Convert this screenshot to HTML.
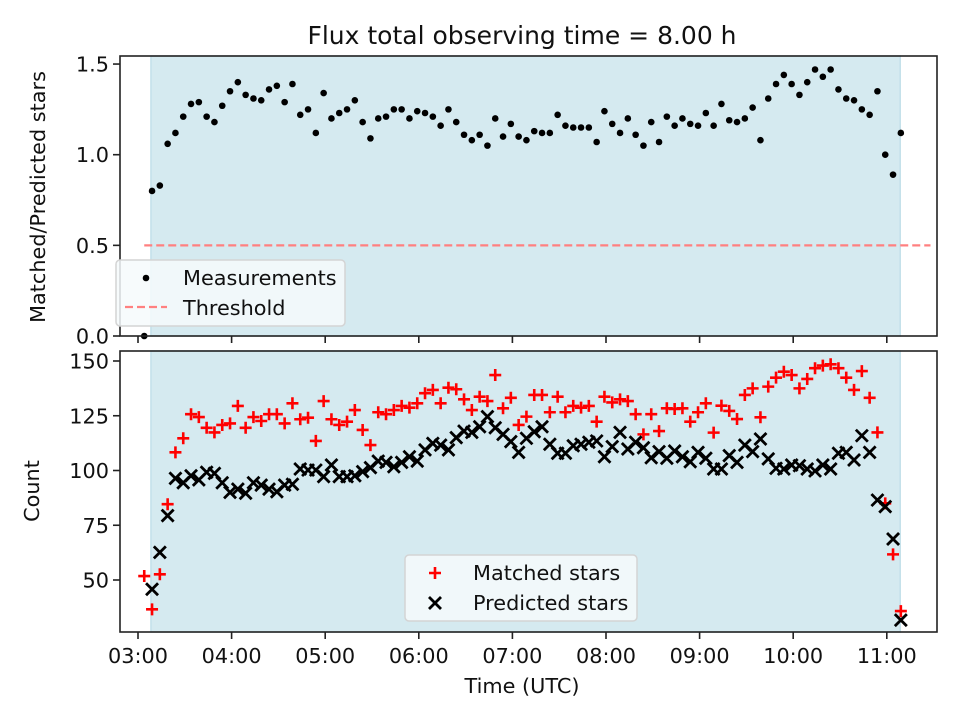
<!DOCTYPE html>
<html><head><meta charset="utf-8"><style>
html,body{margin:0;padding:0;background:#fff;}
svg{display:block;font-family:"DejaVu Sans","Liberation Sans",sans-serif;}
</style></head><body>
<svg id="chart" width="960" height="720" viewBox="0 0 960 720" xmlns="http://www.w3.org/2000/svg">
<rect width="960" height="720" fill="#fff"/>
<g id="layer"></g>
</svg>
<script>
const startMinute = 184;
const stepMinute = 5;
const ratioValues = [0.00,0.80,0.83,1.06,1.12,1.21,1.28,1.29,1.21,1.18,1.27,1.35,1.40,1.33,1.31,1.30,1.36,1.38,1.29,1.39,1.22,1.25,1.12,1.34,1.20,1.23,1.25,1.30,1.18,1.09,1.20,1.21,1.25,1.25,1.20,1.24,1.23,1.21,1.16,1.25,1.18,1.11,1.08,1.11,1.05,1.20,1.10,1.17,1.10,1.08,1.13,1.12,1.12,1.22,1.16,1.15,1.15,1.15,1.07,1.24,1.17,1.12,1.20,1.11,1.05,1.18,1.07,1.21,1.16,1.20,1.17,1.16,1.23,1.16,1.28,1.19,1.18,1.20,1.26,1.08,1.31,1.39,1.44,1.39,1.33,1.40,1.47,1.43,1.47,1.36,1.31,1.30,1.25,1.22,1.35,1.00,0.89,1.12];
const matchedValues = [51.8,36.6,52.6,84.6,108.3,114.7,125.7,124.4,119.5,117.4,120.8,121.5,129.5,119.5,124.4,122.6,125.7,125.7,121.5,130.7,123.4,124.1,113.5,131.7,123.4,120.8,122.3,127.6,118.5,111.6,126.6,125.7,127.6,129.5,128.7,130.7,135.3,136.8,130.7,137.8,137.1,132.5,127.6,133.7,131.7,143.6,128.4,133.2,120.8,124.6,134.5,134.5,126.6,133.7,126.6,129.5,128.7,129.5,122.3,133.7,131.1,132.5,131.7,125.7,116.5,125.7,118.0,128.4,128.1,128.4,122.3,126.6,130.7,117.3,129.6,127.2,123.5,134.5,137.5,124.3,138.3,142.4,145.1,143.6,137.5,141.8,146.7,147.9,148.5,146.7,142.4,136.8,145.4,133.2,117.4,85.0,61.7,35.8];
const predictedValues = [null,45.8,62.6,79.4,96.4,94.4,97.6,95.7,99.2,98.7,94.4,90.0,91.5,89.6,94.4,93.3,91.5,90.3,93.3,93.7,100.7,100.2,100.2,97.2,102.5,97.2,97.2,97.6,99.5,101.3,104.3,103.7,101.7,103.7,106.3,104.3,109.4,112.4,111.6,109.4,115.0,118.0,117.4,120.0,124.6,119.5,116.5,113.2,108.3,114.7,117.7,120.0,112.0,107.9,107.9,111.3,112.0,112.9,113.5,106.3,110.9,117.4,109.8,112.9,110.4,105.8,108.6,105.6,108.9,106.3,104.0,108.3,105.6,100.7,100.7,106.8,103.7,111.6,108.6,114.4,105.3,101.0,100.7,102.5,102.2,100.7,99.8,102.5,100.7,107.9,108.3,104.8,115.9,108.3,86.5,83.5,68.7,31.7];
const xTickMinutes = [180,240,300,360,420,480,540,600,660];
const xTickLabels = ["03:00","04:00","05:00","06:00","07:00","08:00","09:00","10:00","11:00"];
const topTicks = [0,0.5,1.0,1.5];
const topTickLabels = ["0.0","0.5","1.0","1.5"];
const bottomTicks = [50,75,100,125,150];
const spanRange = [188.3, 668.6];
const thresholdValue = 0.5;
const thresholdRange = [184, 688];

const NS = "http://www.w3.org/2000/svg";
const FS = "20.8";
const layer = document.getElementById("layer");
function mk(tag, attrs, parent){const e=document.createElementNS(NS,tag);for(const k in attrs)e.setAttribute(k,attrs[k]);(parent||layer).appendChild(e);return e;}
const L=120,R=937,T1=56,B1=336,T2=351,B2=632;
function xs(m){return 138+(m-180)*93.6/60;}
function y1(v){return 336-v*181.3;}
function y2(v){return 361+(150-v)*2.19;}
const times = ratioValues.map((_,i)=>startMinute+i*stepMinute);

let s1=mk("rect",{x:xs(spanRange[0]),y:T1,width:xs(spanRange[1])-xs(spanRange[0]),height:B1-T1,fill:"#d5eaf0",stroke:"#c3e0ea","stroke-width":1.5});


let s2=mk("rect",{x:xs(spanRange[0]),y:T2,width:xs(spanRange[1])-xs(spanRange[0]),height:B2-T2,fill:"#d5eaf0",stroke:"#c3e0ea","stroke-width":1.5});



let th=mk("line",{x1:xs(thresholdRange[0]),x2:xs(thresholdRange[1]),y1:y1(thresholdValue),y2:y1(thresholdValue),stroke:"#ff8080","stroke-width":2.2,"stroke-dasharray":"8,4"});



const gTop=mk("g",{});


ratioValues.forEach((v,i)=>{
  const c=mk("circle",{cx:xs(times[i]),cy:y1(v),r:3.3,fill:"#000"},gTop);
  
  
});

function plus(x,y,g){return mk("path",{d:`M${x-6} ${y}H${x+6}M${x} ${y-6}V${y+6}`,stroke:"#ff0000","stroke-width":2.6,fill:"none"},g);}
function cross(x,y,g){return mk("path",{d:`M${x-6} ${y-6}L${x+6} ${y+6}M${x-6} ${y+6}L${x+6} ${y-6}`,stroke:"#000","stroke-width":2.8,fill:"none"},g);}
const gM=mk("g",{});


matchedValues.forEach((v,i)=>{if(v==null)return;
  const p=plus(xs(times[i]),y2(v),gM);
  
  
});
const gP=mk("g",{});


predictedValues.forEach((v,i)=>{if(v==null)return;
  const p=cross(xs(times[i]),y2(v),gP);
  
  
});

let f1=mk("rect",{x:L,y:T1,width:R-L,height:B1-T1,fill:"none",stroke:"#222","stroke-width":1.6});


let f2=mk("rect",{x:L,y:T2,width:R-L,height:B2-T2,fill:"none",stroke:"#222","stroke-width":1.6});



xTickMinutes.forEach((m,i)=>{
  const x=xs(m);
  const t1=mk("line",{x1:x,x2:x,y1:B1,y2:B1+7,stroke:"#222","stroke-width":1.6});
  
  
  const t2=mk("line",{x1:x,x2:x,y1:B2,y2:B2+7,stroke:"#222","stroke-width":1.6});
  
  
  const tx=mk("text",{x:x,y:B2+31,"text-anchor":"middle","font-size":FS,fill:"#111"});
  tx.textContent=xTickLabels[i];
  
  
});
topTicks.forEach((v,i)=>{
  const y=y1(v);
  const t=mk("line",{x1:L-7,x2:L,y1:y,y2:y,stroke:"#222","stroke-width":1.6});
  
  
  const tx=mk("text",{x:L-11,y:y+7.5,"text-anchor":"end","font-size":FS,fill:"#111"});
  tx.textContent=topTickLabels[i];
  
  
});
bottomTicks.forEach((v)=>{
  const y=y2(v);
  const t=mk("line",{x1:L-7,x2:L,y1:y,y2:y,stroke:"#222","stroke-width":1.6});
  
  
  const tx=mk("text",{x:L-11,y:y+7.5,"text-anchor":"end","font-size":FS,fill:"#111"});
  tx.textContent=String(v);
  
  
});

const lg1=mk("g",{});


mk("rect",{x:116,y:260,width:229,height:66,rx:4,fill:"#f6fafc","fill-opacity":0.85,stroke:"#d4d4d4","stroke-width":1.5},lg1);
mk("circle",{cx:146,cy:278,r:3.3,fill:"#000"},lg1);
mk("line",{x1:125,x2:167,y1:307,y2:307,stroke:"#ff8080","stroke-width":2.2,"stroke-dasharray":"8,4"},lg1);
let lt=mk("text",{x:183,y:285,"font-size":FS,fill:"#111"},lg1);lt.textContent="Measurements";


lt=mk("text",{x:183,y:315,"font-size":FS,fill:"#111"},lg1);lt.textContent="Threshold";



const lg2=mk("g",{});


mk("rect",{x:405,y:555,width:232,height:66,rx:4,fill:"#f6fafc","fill-opacity":0.85,stroke:"#d4d4d4","stroke-width":1.5},lg2);
plus(435,573,lg2);
cross(435,603,lg2);
lt=mk("text",{x:473,y:580,"font-size":FS,fill:"#111"},lg2);lt.textContent="Matched stars";


lt=mk("text",{x:473,y:610,"font-size":FS,fill:"#111"},lg2);lt.textContent="Predicted stars";



let tt=mk("text",{x:522,y:44,"text-anchor":"middle","font-size":"25",fill:"#111"});tt.textContent="Flux total observing time = 8.00 h";


tt=mk("text",{x:522,y:693,"text-anchor":"middle","font-size":FS,fill:"#111"});tt.textContent="Time (UTC)";


tt=mk("text",{x:0,y:0,"text-anchor":"middle","font-size":FS,fill:"#111",transform:"translate(45,197) rotate(-90)"});tt.textContent="Matched/Predicted stars";


tt=mk("text",{x:0,y:0,"text-anchor":"middle","font-size":FS,fill:"#111",transform:"translate(39,491) rotate(-90)"});tt.textContent="Count";


</script>
</body></html>
